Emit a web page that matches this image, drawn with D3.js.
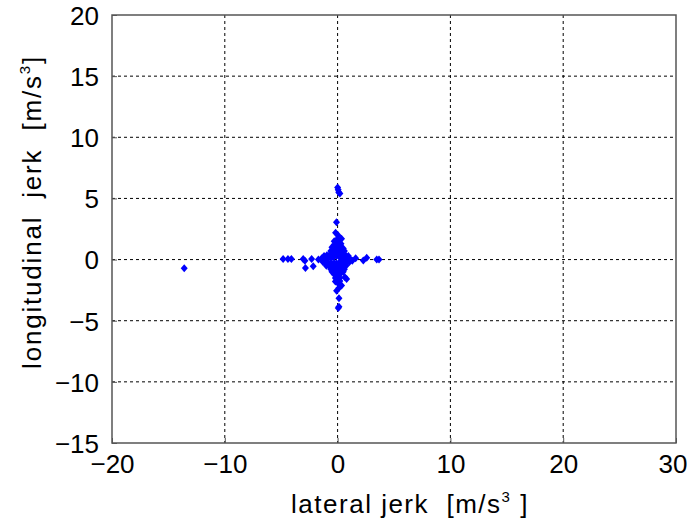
<!DOCTYPE html>
<html>
<head>
<meta charset="utf-8">
<script src="https://cdn.jsdelivr.net/npm/d3@7"></script>
<style>
body { margin: 0; background: #fff; }
svg text { font-family: "Liberation Sans", Arial, sans-serif; fill: #000; white-space: pre; }
</style>
</head>
<body>
<svg width="687" height="519"></svg>
<script>
var width = 687, height = 519;
var margin = { top: 15, right: 11, bottom: 76, left: 112 };

var x_ticks = [-20, -10, 0, 10, 20, 30];
var y_ticks = [-15, -10, -5, 0, 5, 10, 15, 20];

// lateral jerk (x), longitudinal jerk (y)
var lateral = [
    -13.6,
    0.0, 0.05, 0.1, 0.2,
    -0.1, -0.18, 0.06, 0.35,
    -4.83, -4.4, -4.1, -3.05, -2.9, -2.3, -2.85, -2.16, -1.7, -1.4, -1.2,
    2.28, 2.58, 3.47, 3.67, 1.6, 1.3,
    0.65, 0.8, 0.35, 0.12, -0.09, 0.12, 0.12, 0.06,
    // dense core, vertical arm
    -0.3, -0.1, 0.1, 0.3, -0.3, -0.1, 0.1, 0.3, -0.3, -0.1, 0.1, 0.3,
    -0.3, -0.1, 0.1, 0.3, -0.3, -0.1, 0.1, 0.3, -0.3, -0.1, 0.1, 0.3,
    -0.3, -0.1, 0.1, 0.3, -0.3, -0.1, 0.1, 0.3, -0.3, -0.1, 0.1, 0.3,
    -0.2, 0.0, 0.2, -0.2, 0.0, 0.2,
    // dense core, horizontal arm
    -1.4, -1.15, -0.9, -0.65, -0.4, 0.4, 0.65, 0.9, 1.15,
    -1.3, -1.05, -0.8, -0.55, 0.55, 0.8, 1.05,
    -1.2, -0.95, -0.7, -0.5, 0.5, 0.7, 0.95,
    -1.0, -0.75, -0.5, 0.5, 0.75,
    // a few near the core edges
    -0.6, 0.6, -0.6, 0.6, -0.5, 0.5, -0.5, 0.5
];
var longitudinal = [
    -0.7,
    5.9, 5.7, 5.5, 5.4,
    3.06, 2.2, 1.97, 1.7,
    0.05, 0.05, 0.05, 0.05, -0.1, 0.05, -0.68, -0.55, 0.0, 0.1, -0.1,
    -0.08, 0.14, 0.0, 0.0, 0.1, -0.1,
    -1.45, -1.58, -2.13, -2.32, -2.54, -3.17, -3.85, -3.96,
    // dense core, vertical arm
    1.5, 1.6, 1.5, 1.3, 1.2, 1.25, 1.2, 1.0, 0.9, 0.9, 0.9, 0.7,
    0.6, 0.6, 0.6, 0.4, 0.3, 0.3, 0.3, 0.1, -0.3, -0.3, -0.3, -0.2,
    -0.6, -0.6, -0.6, -0.5, -0.9, -0.9, -0.9, -0.8, -1.2, -1.25, -1.2, -1.1,
    -1.5, -1.6, -1.5, -1.8, -1.9, -1.75,
    // dense core, horizontal arm
    0.0, 0.05, 0.1, 0.15, 0.2, 0.15, 0.1, 0.05, 0.0,
    -0.2, -0.25, -0.3, -0.3, -0.3, -0.25, -0.2,
    0.3, 0.35, 0.4, 0.45, 0.4, 0.35, 0.3,
    -0.5, -0.55, -0.6, -0.55, -0.5,
    0.7, 0.7, -0.8, -0.8, 1.0, 0.9, -1.0, -1.0
];

var plot_w = width - margin.left - margin.right;
var plot_h = height - margin.top - margin.bottom;

var svg = d3.select("svg")
    .append("g")
    .attr("transform", "translate(" + margin.left + "," + margin.top + ")");

var x_scale = d3.scaleLinear().domain([-20, 30]).range([0, plot_w]);
var y_scale = d3.scaleLinear().domain([-15, 20]).range([plot_h, 0]);

// dotted grid
svg.append("g")
    .selectAll("line")
    .data(x_ticks.slice(1, -1))
    .enter().append("line")
    .attr("x1", function(d) { return x_scale(d); })
    .attr("x2", function(d) { return x_scale(d); })
    .attr("y1", 0)
    .attr("y2", plot_h)
    .attr("stroke", "#000")
    .attr("stroke-width", 1)
    .attr("stroke-dasharray", "3,3");

svg.append("g")
    .selectAll("line")
    .data(y_ticks.slice(1, -1))
    .enter().append("line")
    .attr("x1", 0)
    .attr("x2", plot_w)
    .attr("y1", function(d) { return y_scale(d); })
    .attr("y2", function(d) { return y_scale(d); })
    .attr("stroke", "#000")
    .attr("stroke-width", 1)
    .attr("stroke-dasharray", "3,3");

// axes, ticks pointing inward like matlab
var fmt = function(d) { return d < 0 ? "\u2212" + (-d) : d; };
var x_axis = d3.axisBottom(x_scale).tickValues(x_ticks).tickSize(-5).tickPadding(11).tickFormat(fmt);
var y_axis = d3.axisLeft(y_scale).tickValues(y_ticks).tickSize(-5).tickPadding(13).tickFormat(fmt);

var gx = svg.append("g")
    .attr("transform", "translate(0," + plot_h + ")")
    .call(x_axis);
var gy = svg.append("g").call(y_axis);

[gx, gy].forEach(function(g) {
    g.select(".domain").remove();
    g.selectAll(".tick line").attr("stroke", "#555");
    g.selectAll(".tick text")
        .style("font-size", "26px")
        .style("font-family", "'Liberation Sans', Arial, sans-serif");
});
gx.selectAll(".tick text").attr("dy", "0.72em");
gy.selectAll(".tick text").attr("dy", "0.36em");
// last label sits at the right edge of the window
gx.selectAll(".tick text").filter(function(d) { return d === 30; }).attr("text-anchor", "end").attr("x", 11);

// frame
svg.append("rect")
    .attr("x", 0).attr("y", 0)
    .attr("width", plot_w).attr("height", plot_h)
    .attr("fill", "none")
    .attr("stroke", "#555")
    .attr("stroke-width", 1.5);

// points
var pts = lateral.map(function(d, i) { return [d, longitudinal[i]]; });
svg.append("g")
    .selectAll("path")
    .data(pts)
    .enter().append("path")
    .attr("transform", function(d) {
        return "translate(" + x_scale(d[0]) + "," + y_scale(d[1]) + ")";
    })
    .attr("d", "M0,-4L3.5,0L0,4L-3.5,0Z")
    .attr("fill", "#0000ff");

// axis labels
var xl = d3.select("svg").append("text")
    .attr("x", 410)
    .attr("y", 513)
    .attr("text-anchor", "middle")
    .style("font-size", "26px")
    .style("letter-spacing", "1.5px");
xl.append("tspan").text("lateral jerk  [m/s");
xl.append("tspan").attr("dy", -11).style("font-size", "15px").text("3");
xl.append("tspan").attr("dy", 11).text(" ]");

var yl = d3.select("svg").append("text")
    .attr("transform", "translate(41,212) rotate(-90)")
    .attr("text-anchor", "middle")
    .style("font-size", "26px")
    .style("letter-spacing", "1.8px");
yl.append("tspan").text("longitudinal  jerk  [m/s");
yl.append("tspan").attr("dy", -11).style("font-size", "15px").text("3");
yl.append("tspan").attr("dy", 11).text("]");
</script>
</body>
</html>
